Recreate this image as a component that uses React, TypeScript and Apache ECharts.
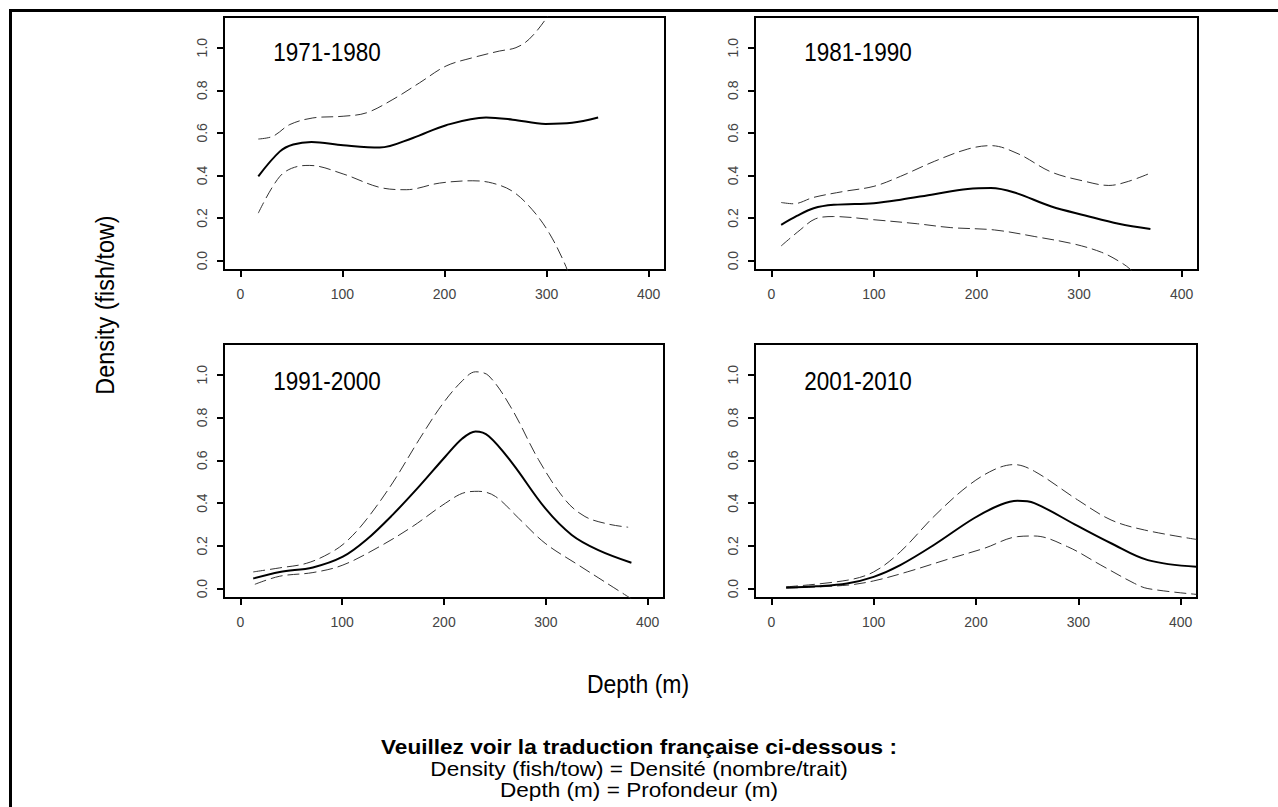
import React, { useEffect, useRef } from "react";
import * as echarts from "echarts";

// ---- data (depth in m, density in fish/tow) ----
const panelTitles = ["1971-1980", "1981-1990", "1991-2000", "2001-2010"];
const xTicks = [0, 100, 200, 300, 400];
const yTicks = [0, 0.2, 0.4, 0.6, 0.8, 1.0];
const xLabel = "Depth (m)";
const yLabel = "Density (fish/tow)";
const noteLines = [
  "Veuillez voir la traduction française ci-dessous :",
  "Density (fish/tow) = Densité (nombre/trait)",
  "Depth (m) = Profondeur (m)",
];

const fit1971 = [[17.6, 0.396], [38.8, 0.513], [51.8, 0.545], [69.7, 0.557], [100.7, 0.542], [136.5, 0.531], [169, 0.576], [201.6, 0.636], [240.7, 0.672], [266.8, 0.662], [299, 0.642], [325, 0.647], [350.5, 0.672]];
const upper1971 = [[17.6, 0.571], [32, 0.584], [48.5, 0.639], [71, 0.67], [100.7, 0.678], [123.5, 0.694], [149.5, 0.757], [175.6, 0.835], [201.6, 0.914], [227.7, 0.953], [253.7, 0.984], [270, 1.0], [283, 1.04], [299, 1.133], [310, 1.22]];
const lower1971 = [[17.6, 0.223], [38.8, 0.396], [56.7, 0.443], [68, 0.447], [100.7, 0.407], [136.5, 0.344], [162.5, 0.333], [195, 0.364], [227.7, 0.375], [247, 0.364], [266.8, 0.325], [286, 0.239], [302.6, 0.129], [319, -0.028], [325, -0.12]];

const fit1981 = [[9.5, 0.168], [24.8, 0.21], [41.2, 0.246], [60.8, 0.262], [100, 0.27], [126, 0.286], [158.8, 0.312], [191.5, 0.336], [214, 0.341], [237, 0.32], [273, 0.254], [306, 0.212], [338.6, 0.173], [369.6, 0.148]];
const upper1981 = [[9.5, 0.273], [21.6, 0.267], [41.2, 0.297], [70.6, 0.325], [100, 0.349], [126, 0.396], [158.8, 0.466], [191.5, 0.524], [214, 0.54], [240.5, 0.502], [273, 0.416], [306, 0.372], [329, 0.353], [348, 0.372], [369.6, 0.411]];
const lower1981 = [[9.5, 0.069], [28, 0.144], [42.8, 0.196], [60.8, 0.207], [100, 0.192], [142.5, 0.173], [175, 0.155], [217.6, 0.144], [256.9, 0.113], [296, 0.077], [322, 0.039], [338.6, -0.002], [350, -0.041], [360, -0.1]];

const fit1991 = [[12.7, 0.047], [38.8, 0.078], [71.3, 0.099], [100.7, 0.149], [123.5, 0.227], [149.5, 0.345], [175.6, 0.478], [201.6, 0.619], [218, 0.702], [231, 0.735], [244, 0.713], [266.8, 0.588], [299.3, 0.376], [325.4, 0.251], [351.5, 0.18], [384, 0.121]];
const upper1991 = [[12.7, 0.078], [38.8, 0.097], [64.8, 0.118], [87.6, 0.165], [103.9, 0.219], [123.5, 0.321], [149.5, 0.494], [175.6, 0.697], [198.4, 0.862], [218, 0.972], [231, 1.014], [244, 0.995], [266.8, 0.839], [292.8, 0.603], [319, 0.415], [338.4, 0.337], [361, 0.302], [380.8, 0.287]];
const lower1991 = [[14.3, 0.02], [38.8, 0.058], [71.3, 0.075], [100.7, 0.11], [136.5, 0.196], [169, 0.29], [201.6, 0.4], [221, 0.45], [234, 0.455], [250.5, 0.431], [273.3, 0.329], [299.3, 0.212], [332, 0.11], [358, 0.031], [384, -0.048]];

const fit2001 = [[14.4, 0.005], [44.4, 0.011], [73.9, 0.024], [100, 0.055], [126, 0.11], [158.8, 0.204], [198, 0.329], [224, 0.392], [240.5, 0.411], [257, 0.4], [299.3, 0.293], [332, 0.212], [368, 0.133], [415.4, 0.102]];
const upper2001 = [[14.4, 0.008], [73.9, 0.039], [100, 0.078], [126, 0.172], [158.8, 0.337], [191.5, 0.478], [217.6, 0.556], [237.3, 0.58], [257, 0.549], [299.3, 0.415], [332, 0.321], [364.7, 0.274], [415.4, 0.23]];
const lower2001 = [[14.4, 0.002], [73.9, 0.016], [100, 0.036], [132.7, 0.078], [175, 0.141], [207.8, 0.188], [240.5, 0.243], [257, 0.246], [289.5, 0.196], [322, 0.11], [355, 0.024], [368, 0.0], [415.4, -0.027]];

const fits = [fit1971, fit1981, fit1991, fit2001];
const uppers = [upper1971, upper1981, upper1991, upper2001];
const lowers = [lower1971, lower1981, lower1991, lower2001];

// ---- layout ----
const grids = [
  { left: 224, top: 17, width: 441, height: 253 },
  { left: 755, top: 17, width: 443, height: 253 },
  { left: 224, top: 344, width: 440, height: 254 },
  { left: 755, top: 344, width: 442, height: 254 },
];
const titlePos = [
  [327, 52],
  [858, 52],
  [327, 381],
  [858, 381],
];
const FONT = "'Liberation Sans', Arial, sans-serif";

export default function App() {
  const ref = useRef<HTMLDivElement>(null);
  useEffect(() => {
    if (!ref.current) return;
    const chart = echarts.init(ref.current, null, { renderer: "svg" });
    const xAxes = grids.map((_, i) => ({
      type: "value",
      gridIndex: i,
      min: -16,
      max: 416,
      axisLine: { show: false, onZero: false },
      splitLine: { show: false },
      axisTick: { show: true, length: 7, customValues: xTicks, lineStyle: { color: "#000", width: 2 } },
      axisLabel: { customValues: xTicks, margin: 17, color: "#444", fontSize: 14, fontFamily: FONT },
    }));
    const yAxes = grids.map((_, i) => ({
      type: "value",
      gridIndex: i,
      min: -0.044,
      max: 1.144,
      axisLine: { show: false, onZero: false },
      splitLine: { show: false },
      axisTick: { show: true, length: 7, customValues: yTicks, lineStyle: { color: "#000", width: 2 } },
      axisLabel: {
        customValues: yTicks,
        rotate: 90,
        margin: 15,
        color: "#444",
        fontSize: 14,
        fontFamily: FONT,
        formatter: (v: number) => v.toFixed(1),
      },
    }));
    const series: any[] = [];
    for (let i = 0; i < 4; i++) {
      const common = { type: "line", xAxisIndex: i, yAxisIndex: i, showSymbol: false, smooth: 0.35, clip: true, silent: true };
      series.push({ ...common, name: panelTitles[i] + " upper", data: uppers[i], lineStyle: { color: "#333", width: 1, type: [12, 5] } });
      series.push({ ...common, name: panelTitles[i] + " lower", data: lowers[i], lineStyle: { color: "#333", width: 1, type: [12, 5] } });
      series.push({ ...common, name: panelTitles[i], data: fits[i], lineStyle: { color: "#000", width: 2 } });
    }
    const graphic: any[] = [
      { type: "line", shape: { x1: 9, y1: 10.5, x2: 1278, y2: 10.5 }, style: { stroke: "#000", lineWidth: 3 } },
      { type: "line", shape: { x1: 10.5, y1: 9, x2: 10.5, y2: 807 }, style: { stroke: "#000", lineWidth: 3 } },
    ];
    const centered = { fill: "#000", fontFamily: FONT, align: "center", verticalAlign: "middle", textAlign: "center", textVerticalAlign: "middle" };
    panelTitles.forEach((t, i) => {
      graphic.push({
        type: "text",
        x: titlePos[i][0],
        y: titlePos[i][1],
        scaleX: 0.9,
        style: { ...centered, text: t, fontSize: 25 },
      });
    });
    graphic.push({
      type: "text",
      x: 105,
      y: 305,
      rotation: Math.PI / 2,
      scaleX: 0.9,
      style: { ...centered, text: yLabel, fontSize: 26 },
    });
    graphic.push({
      type: "text",
      x: 638,
      y: 684,
      scaleX: 0.92,
      style: { ...centered, text: xLabel, fontSize: 25 },
    });
    const noteY = [747, 769, 790];
    noteLines.forEach((t, i) => {
      graphic.push({
        type: "text",
        x: 639,
        y: noteY[i],
        scaleX: 1.13,
        style: { ...centered, text: t, fontSize: 20, fontWeight: i === 0 ? "bold" : "normal" },
      });
    });
    chart.setOption({
      animation: false,
      backgroundColor: "#fff",
      grid: grids.map((g) => ({ ...g, show: true, borderColor: "#000", borderWidth: 2, backgroundColor: "transparent" })),
      xAxis: xAxes,
      yAxis: yAxes,
      series,
      graphic,
    });
    return () => chart.dispose();
  }, []);
  return <div ref={ref} style={{ position: "fixed", left: 0, top: 0, width: 1278, height: 807, background: "#fff" }} />;
}
